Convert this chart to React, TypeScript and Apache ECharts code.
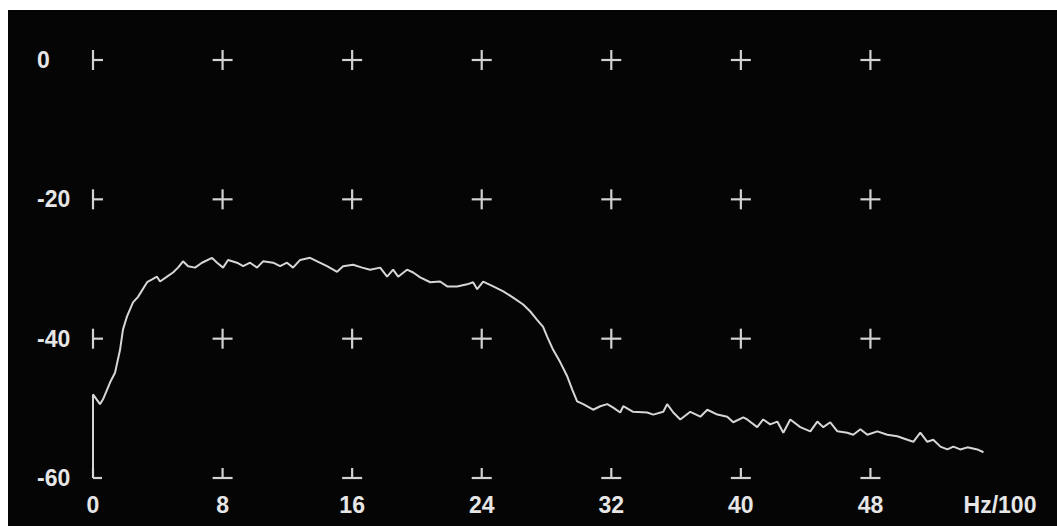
import React, { useEffect, useRef } from "react";
import * as echarts from "echarts";

// Grid marker positions
const crossFreqs = [8, 16, 24, 32, 40, 48];
const crossLevels = [0, -20, -40];
const bottomLevel = -60;
const xUnitLabel = "Hz/100";
const xMax = 56;

// Spectrum trace (frequency in Hz/100, level in dB)
const freqs = [
  0, 0, 0.43, 0.62, 1.05, 1.36, 1.67, 1.85, 2.1, 2.47, 2.78, 3.34, 3.65, 3.95, 4.14, 4.57, 4.94, 5.25,
  5.56, 5.87, 6.3, 6.73, 7.35, 7.66, 8.03, 8.34, 8.89, 9.27, 9.7, 10.13, 10.5, 11.12, 11.55, 11.98,
  12.35, 12.79, 13.4, 13.84, 14.45, 15.07, 15.44, 16.06, 16.62, 17.11, 17.73, 18.16, 18.53, 18.84,
  19.39, 19.77, 20.2, 20.82, 21.43, 21.87, 22.48, 23.1, 23.47, 23.72, 24.09, 24.71, 25.33, 25.94,
  26.56, 27.0, 27.42, 27.79, 28.04, 28.41, 28.85, 29.28, 29.59, 29.89, 30.27, 30.88, 31.32, 31.75,
  32.12, 32.55, 32.74, 33.35, 34.22, 34.59, 35.21, 35.45, 35.83, 36.26, 36.88, 37.5, 37.93, 38.55,
  39.16, 39.53, 40.15, 40.39, 41.01, 41.38, 41.81, 42.25, 42.62, 43.05, 43.67, 44.29, 44.72, 45.09,
  45.52, 45.96, 46.57, 46.94, 47.38, 47.81, 48.43, 49.04, 49.66, 50.28, 50.65, 51.08, 51.51, 51.88,
  52.32, 52.75, 53.12, 53.55, 53.99, 54.6, 54.98,
];
const levels = [
  -60, -48.0, -49.4, -48.7, -46.3, -44.9, -41.6, -38.7, -36.8, -34.8, -34.0, -31.9, -31.5, -31.1,
  -31.8, -31.1, -30.5, -29.8, -28.9, -29.6, -29.8, -29.1, -28.4, -29.1, -29.8, -28.7, -29.1, -29.6,
  -29.1, -29.8, -28.9, -29.1, -29.6, -29.1, -29.8, -28.7, -28.4, -28.9, -29.6, -30.4, -29.6, -29.4,
  -29.8, -30.1, -29.8, -31.1, -30.1, -31.1, -30.1, -30.5, -31.2, -31.9, -31.8, -32.5, -32.5, -32.2,
  -31.9, -32.9, -31.8, -32.5, -33.2, -34.1, -35.1, -36.1, -37.3, -38.3, -39.7, -41.6, -43.4, -45.4,
  -47.3, -49.0, -49.4, -50.2, -49.7, -49.4, -49.9, -50.6, -49.7, -50.5, -50.6, -50.9, -50.5, -49.4,
  -50.6, -51.6, -50.5, -51.2, -50.2, -50.9, -51.2, -52.0, -51.3, -51.6, -52.7, -51.6, -52.3, -51.9,
  -53.5, -51.6, -52.7, -53.3, -51.9, -52.7, -52.0, -53.3, -53.5, -53.8, -53.0, -53.8, -53.3, -53.8,
  -54.0, -54.5, -54.8, -53.5, -54.8, -54.5, -55.5, -55.9, -55.5, -55.9, -55.6, -55.9, -56.3,
];

const TEXT = "#e6e6e6";
const MARK = "#d2d2d2";
const TRACE = "#d6d6d6";

export default function App() {
  const ref = useRef<HTMLDivElement>(null);

  useEffect(() => {
    if (!ref.current) return;
    const chart = echarts.init(ref.current, undefined, { renderer: "svg" });

    // kind: 0 = full cross, 1 = left-edge tick, 2 = bottom tick, 3 = corner
    const markers: number[][] = [];
    crossLevels.forEach((lv) => {
      markers.push([0, lv, 1]);
      crossFreqs.forEach((f) => markers.push([f, lv, 0]));
    });
    markers.push([0, bottomLevel, 3]);
    crossFreqs.forEach((f) => markers.push([f, bottomLevel, 2]));

    const trace = freqs.map((f, i) => [f, levels[i]]);
    const arm = 10;

    const labelFont = {
      color: TEXT,
      fontFamily: "Liberation Sans, Arial, sans-serif",
      fontWeight: "bold" as const,
      fontSize: 23,
    };

    chart.setOption({
      animation: false,
      backgroundColor: "#050505",
      grid: { left: 85, right: 57, top: 50, bottom: 48 },
      xAxis: {
        type: "value",
        min: 0,
        max: xMax,
        interval: 8,
        axisLine: { show: false },
        axisTick: { show: false },
        splitLine: { show: false },
        axisLabel: {
          ...labelFont,
          margin: 15,
          showMaxLabel: true,
          formatter: (v: number) => (v === xMax ? xUnitLabel : String(v)),
        },
      },
      yAxis: {
        type: "value",
        min: -60,
        max: 0,
        interval: 20,
        axisLine: { show: false },
        axisTick: { show: false },
        splitLine: { show: false },
        axisLabel: { ...labelFont, align: "left", margin: 56 },
      },
      series: [
        {
          type: "custom",
          clip: false,
          silent: true,
          z: 1,
          data: markers,
          renderItem: (params: any, api: any) => {
            const p = api.coord([api.value(0), api.value(1)]);
            const kind = api.value(2);
            const x = p[0];
            const y = p[1];
            const style = { stroke: MARK, lineWidth: 2.2 };
            const segs: number[][] = [];
            if (kind === 0) {
              segs.push([x - arm, y, x + arm, y], [x, y - arm, x, y + arm]);
            } else if (kind === 1) {
              segs.push([x, y - arm, x, y + arm], [x, y, x + arm, y]);
            } else if (kind === 2) {
              segs.push([x - arm, y, x + arm, y], [x, y - arm, x, y]);
            } else {
              segs.push([x, y - arm, x, y], [x, y, x + arm * 0.9, y]);
            }
            return {
              type: "group",
              children: segs.map((s) => ({
                type: "line",
                shape: { x1: s[0], y1: s[1], x2: s[2], y2: s[3] },
                style,
              })),
            };
          },
        },
        {
          type: "line",
          data: trace,
          symbol: "none",
          z: 2,
          silent: true,
          lineStyle: { color: TRACE, width: 2 },
        },
      ],
    });

    return () => chart.dispose();
  }, []);

  return (
    <div
      ref={ref}
      style={{ position: "absolute", left: 8, top: 10, width: 1049, height: 516 }}
    />
  );
}
